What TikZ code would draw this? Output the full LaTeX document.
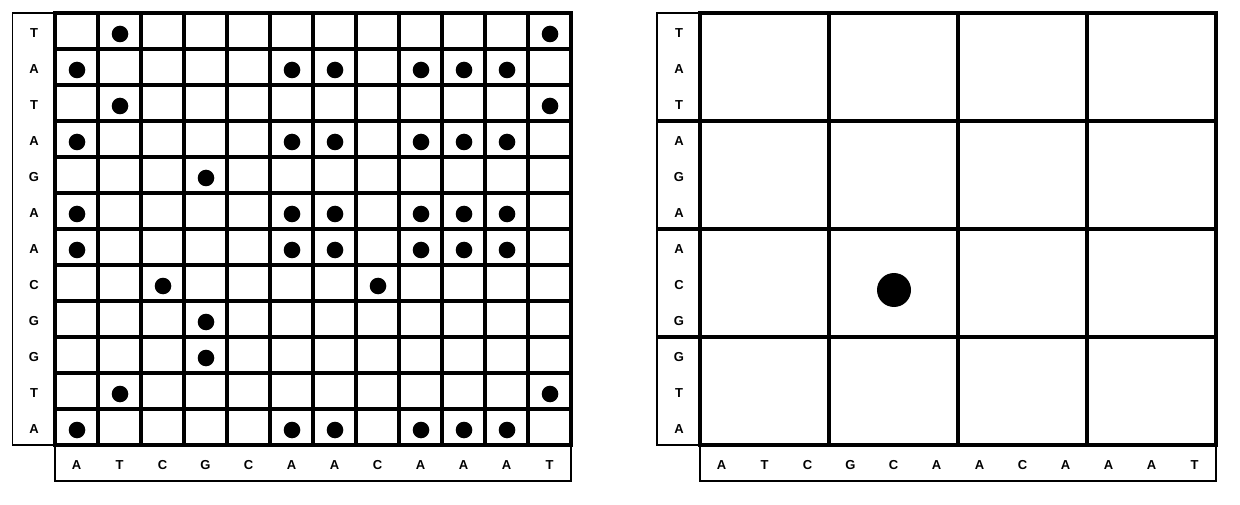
\documentclass[tikz,border=0pt]{standalone}
\usepackage{fontspec}
\setmainfont{Liberation Sans}
\begin{document}
\begin{tikzpicture}[x=1pt,y=-1pt,
  thinbox/.style={draw=black,line width=1.3pt},
  thickgrid/.style={draw=black,line width=3.4pt,line cap=rect},
  lbl/.style={font=\fontsize{13}{15}\selectfont\bfseries,inner sep=0pt},
  dot/.style={fill=black}]
\useasboundingbox (0,0) rectangle (1240,505);
% ---------- left panel ----------
\def\rowseq{{"T","A","T","A","G","A","A","C","G","G","T","A"}}
\def\colseq{{"A","T","C","G","C","A","A","C","A","A","A","T"}}
\draw[thinbox] (12.5,13) rectangle (55,445);
\draw[thinbox] (55,445) rectangle (571,481);
\foreach \i in {0,...,11}{
  \pgfmathsetmacro{\r}{\rowseq[\i]}
  \pgfmathsetmacro{\c}{\colseq[\i]}
  \node[lbl] (lr\i) at (34,{13+36*\i+20}) {\r};
  \node[lbl] (lc\i) at ({55+43*\i+21.5},465) {\c};
}
\foreach \i in {0,...,12}{
  \draw[thickgrid] ({55+43*\i},13) -- ({55+43*\i},445);
  \draw[thickgrid] (55,{13+36*\i}) -- (571,{13+36*\i});
}
\foreach \rr in {0,...,11}{
  \foreach \cc in {0,1,2,3,5,6,7,8,9,10,11}{
    \pgfmathsetmacro{\a}{\rowseq[\rr]}
    \pgfmathsetmacro{\b}{\colseq[\cc]}
    \ifx\a\b
      \fill[dot] ({55+43*\cc+21.5+0.5},{13+36*\rr+21}) circle (8.3);
    \fi
  }
}
% ---------- right panel ----------
\draw[thinbox] (657,13) rectangle (700,445);
\draw[thinbox] (700,445) rectangle (1216,481);
\foreach \i in {0,...,11}{
  \pgfmathsetmacro{\r}{\rowseq[\i]}
  \pgfmathsetmacro{\c}{\colseq[\i]}
  \node[lbl] (rr\i) at (679,{13+36*\i+20}) {\r};
  \node[lbl] (rc\i) at ({700+43*\i+21.5},465) {\c};
}
\foreach \i in {0,...,4}{
  \draw[thickgrid] ({700+129*\i},13) -- ({700+129*\i},445);
}
\draw[thickgrid] (700,13) -- (1216,13);
\draw[thickgrid] (700,445) -- (1216,445);
\foreach \i in {1,2,3}{
  \draw[thickgrid] (658.5,{13+108*\i}) -- (1216,{13+108*\i});
}
\fill[dot] (894,290) circle (17);
\end{tikzpicture}
\end{document}
